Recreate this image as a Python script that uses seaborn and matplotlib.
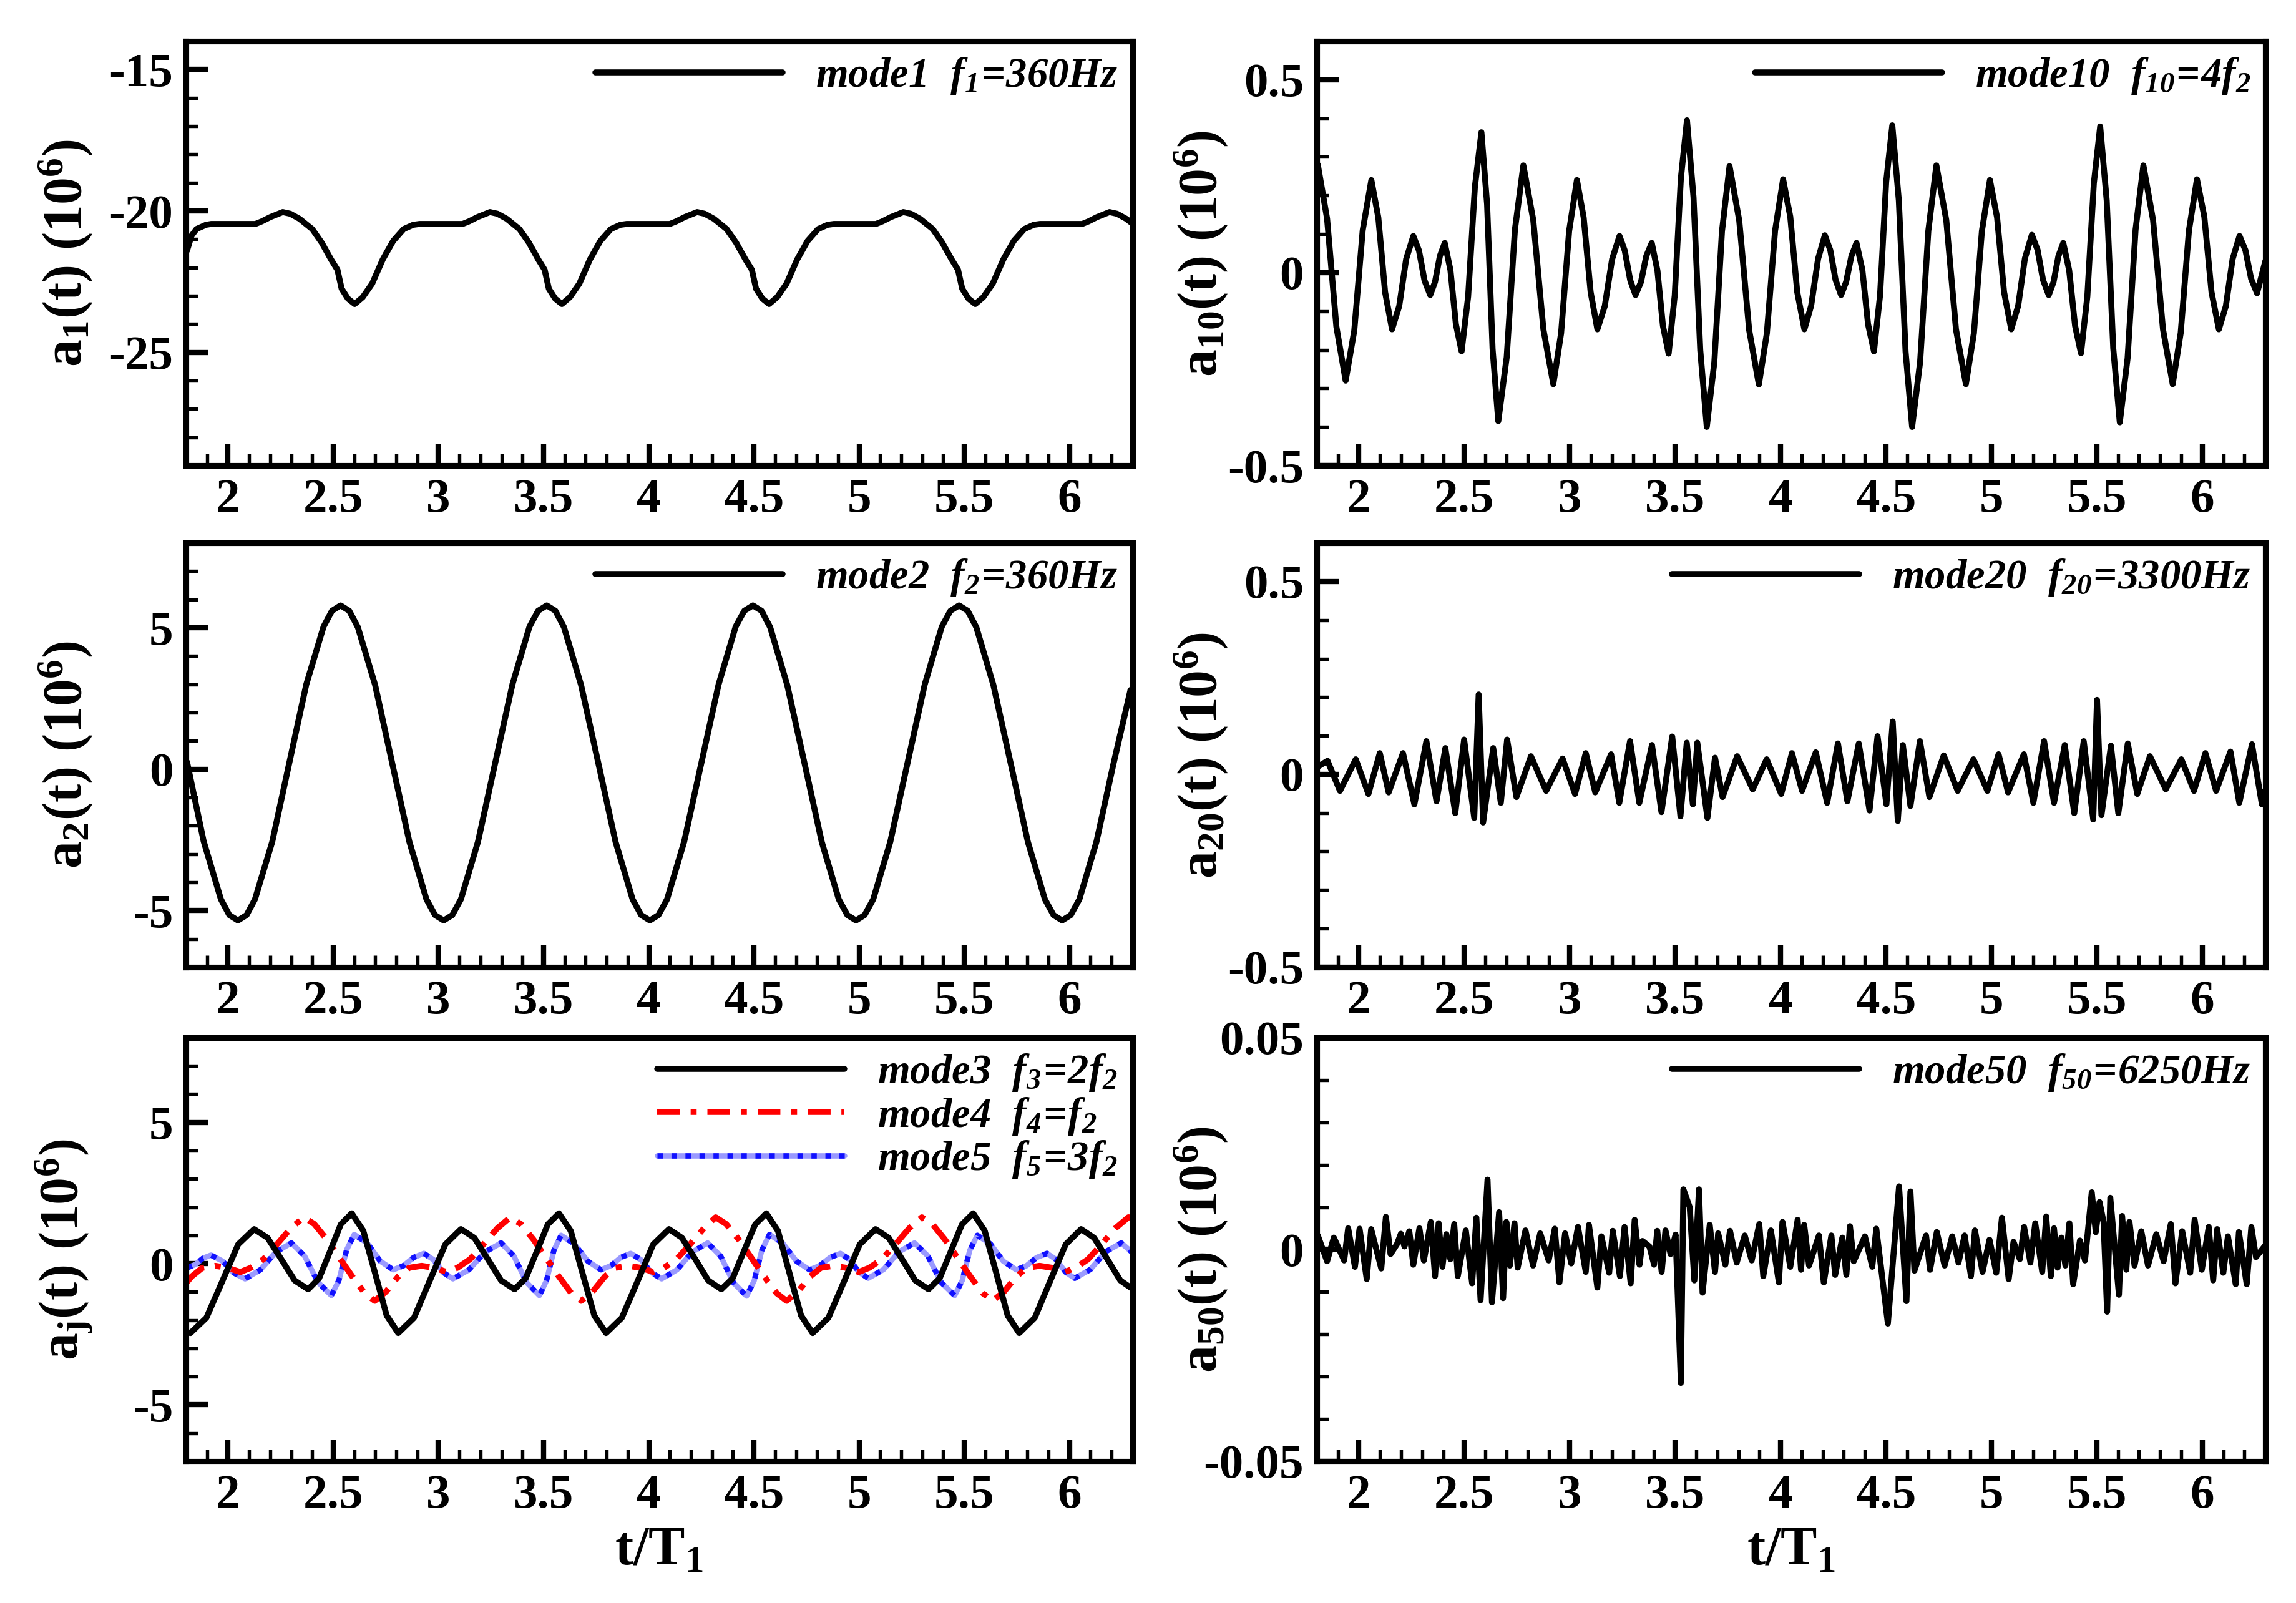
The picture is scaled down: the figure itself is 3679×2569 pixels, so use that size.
import matplotlib
matplotlib.use("Agg")
import matplotlib.pyplot as plt
import seaborn as sns
from matplotlib.ticker import MultipleLocator
from matplotlib.legend_handler import HandlerTuple

# ---------------- data ----------------
x_ticks = [2, 2.5, 3, 3.5, 4, 4.5, 5, 5.5, 6]
x_tick_labels = ["2", "2.5", "3", "3.5", "4", "4.5", "5", "5.5", "6"]

# mode 1
t_mode1 = [1.805, 1.826, 1.85, 1.895, 1.92,
           2.13, 2.16, 2.20, 2.26, 2.296, 2.34, 2.40, 2.445, 2.49, 2.52, 2.54, 2.57, 2.602, 2.64, 2.685, 2.735, 2.785, 2.835, 2.88, 2.91,
           3.115, 3.145, 3.185, 3.245, 3.281, 3.325, 3.385, 3.43, 3.475, 3.505, 3.525, 3.555, 3.587, 3.625, 3.67, 3.72, 3.77, 3.82, 3.865, 3.895,
           4.10, 4.13, 4.17, 4.23, 4.266, 4.31, 4.37, 4.415, 4.46, 4.49, 4.51, 4.54, 4.572, 4.61, 4.655, 4.705, 4.755, 4.805, 4.85, 4.88,
           5.08, 5.11, 5.15, 5.21, 5.246, 5.29, 5.35, 5.395, 5.44, 5.47, 5.49, 5.52, 5.552, 5.59, 5.635, 5.685, 5.735, 5.785, 5.83, 5.86,
           6.06, 6.09, 6.13, 6.19, 6.226, 6.27, 6.30]
a_mode1 = [-21.40, -20.88, -20.64, -20.49, -20.46,
           -20.46, -20.37, -20.22, -20.04, -20.10, -20.28, -20.64, -21.12, -21.72, -22.08, -22.75, -23.10, -23.29, -23.05, -22.57, -21.72, -21.06, -20.64, -20.49, -20.46,
           -20.46, -20.37, -20.22, -20.04, -20.10, -20.28, -20.64, -21.12, -21.72, -22.08, -22.75, -23.10, -23.29, -23.05, -22.57, -21.72, -21.06, -20.64, -20.49, -20.46,
           -20.46, -20.37, -20.22, -20.04, -20.10, -20.28, -20.64, -21.12, -21.72, -22.08, -22.75, -23.10, -23.29, -23.05, -22.57, -21.72, -21.06, -20.64, -20.49, -20.46,
           -20.46, -20.37, -20.22, -20.04, -20.10, -20.28, -20.64, -21.12, -21.72, -22.08, -22.75, -23.10, -23.29, -23.05, -22.57, -21.72, -21.06, -20.64, -20.49, -20.46,
           -20.46, -20.37, -20.22, -20.04, -20.10, -20.28, -20.45]

# mode 2
t_mode2 = [1.805, 1.884, 1.966, 2.006, 2.047, 2.088,
           2.128, 2.210, 2.291, 2.372, 2.454, 2.494, 2.535, 2.576,
           2.617, 2.699, 2.780, 2.862, 2.943, 2.984, 3.025, 3.066,
           3.107, 3.188, 3.270, 3.352, 3.433, 3.474, 3.515, 3.556,
           3.597, 3.678, 3.760, 3.842, 3.923, 3.964, 4.005, 4.046,
           4.087, 4.168, 4.250, 4.332, 4.413, 4.454, 4.495, 4.536,
           4.577, 4.658, 4.740, 4.822, 4.903, 4.944, 4.985, 5.026,
           5.067, 5.148, 5.230, 5.312, 5.393, 5.434, 5.475, 5.516,
           5.557, 5.638, 5.720, 5.802, 5.883, 5.924, 5.965, 6.006,
           6.047, 6.128, 6.210, 6.290]
a_mode2 = [0.25, -2.55, -4.60, -5.16, -5.35, -5.16,
           -4.60, -2.57, 0.22, 3.00, 5.04, 5.60, 5.79, 5.60,
           5.02, 2.98, 0.22, -2.57, -4.60, -5.16, -5.35, -5.16,
           -4.60, -2.57, 0.22, 3.00, 5.04, 5.60, 5.79, 5.60,
           5.02, 2.98, 0.22, -2.57, -4.60, -5.16, -5.35, -5.16,
           -4.60, -2.57, 0.22, 3.00, 5.04, 5.60, 5.79, 5.60,
           5.02, 2.98, 0.22, -2.57, -4.60, -5.16, -5.35, -5.16,
           -4.60, -2.57, 0.22, 3.00, 5.04, 5.60, 5.79, 5.60,
           5.02, 2.98, 0.22, -2.57, -4.60, -5.16, -5.35, -5.16,
           -4.60, -2.57, 0.22, 2.80]

# mode 3
t_mode3 = [1.805, 1.821, 1.897, 1.973, 2.048, 2.124, 2.188, 2.253, 2.317, 2.381, 2.433, 2.485, 2.536, 2.588, 2.643, 2.699, 2.754, 2.809,
           2.884, 2.958, 3.033, 3.107, 3.171, 3.235, 3.298, 3.362, 3.415, 3.468, 3.520, 3.573, 3.629, 3.685, 3.741, 3.797,
           3.872, 3.947, 4.021, 4.096, 4.158, 4.221, 4.283, 4.345, 4.399, 4.452, 4.506, 4.559, 4.614, 4.669, 4.724, 4.779,
           4.854, 4.929, 5.003, 5.078, 5.141, 5.204, 5.267, 5.330, 5.383, 5.436, 5.489, 5.542, 5.597, 5.652, 5.706, 5.761,
           5.835, 5.908, 5.982, 6.055, 6.117, 6.180, 6.242, 6.300]
a_mode3 = [-2.42, -2.46, -1.92, -0.62, 0.68, 1.22, 0.91, 0.155, -0.60, -0.91, -0.52, 0.435, 1.39, 1.78, 1.16, -0.34, -1.84, -2.46,
           -1.92, -0.62, 0.68, 1.22, 0.91, 0.155, -0.60, -0.91, -0.52, 0.435, 1.39, 1.78, 1.16, -0.34, -1.84, -2.46,
           -1.92, -0.62, 0.68, 1.22, 0.91, 0.155, -0.60, -0.91, -0.52, 0.435, 1.39, 1.78, 1.16, -0.34, -1.84, -2.46,
           -1.92, -0.62, 0.68, 1.22, 0.91, 0.155, -0.60, -0.91, -0.52, 0.435, 1.39, 1.78, 1.16, -0.34, -1.84, -2.46,
           -1.92, -0.62, 0.68, 1.22, 0.91, 0.155, -0.60, -0.90]

# mode 4
t_mode4 = [1.805, 1.828, 1.878, 1.938, 1.998, 2.058, 2.108, 2.168, 2.238, 2.298,
           2.36, 2.41, 2.47, 2.53, 2.59, 2.65, 2.697, 2.75, 2.81, 2.86, 2.92, 2.98, 3.04, 3.09, 3.15, 3.22, 3.28,
           3.342, 3.392, 3.452, 3.512, 3.572, 3.632, 3.679, 3.732, 3.792, 3.842, 3.902, 3.962, 4.022, 4.072, 4.132, 4.202, 4.262,
           4.318, 4.368, 4.428, 4.488, 4.548, 4.608, 4.655, 4.708, 4.768, 4.818, 4.878, 4.938, 4.998, 5.048, 5.108, 5.178, 5.238,
           5.298, 5.348, 5.408, 5.468, 5.528, 5.588, 5.635, 5.688, 5.748, 5.798, 5.858, 5.918, 5.978, 6.028, 6.088, 6.158, 6.218,
           6.28, 6.30]
a_mode4 = [-0.65, -0.45, -0.15, -0.08, -0.15, -0.30, -0.15, 0.15, 0.73, 1.25,
           1.64, 1.40, 0.85, 0.20, -0.45, -1.05, -1.32, -1.00, -0.45, -0.15, -0.08, -0.15, -0.30, -0.15, 0.15, 0.73, 1.25,
           1.64, 1.40, 0.85, 0.20, -0.45, -1.05, -1.32, -1.00, -0.45, -0.15, -0.08, -0.15, -0.30, -0.15, 0.15, 0.73, 1.25,
           1.64, 1.40, 0.85, 0.20, -0.45, -1.05, -1.32, -1.00, -0.45, -0.15, -0.08, -0.15, -0.30, -0.15, 0.15, 0.73, 1.25,
           1.64, 1.40, 0.85, 0.20, -0.45, -1.05, -1.32, -1.00, -0.45, -0.15, -0.08, -0.15, -0.30, -0.15, 0.15, 0.73, 1.25,
           1.64, 1.62]

# mode 5
t_mode5 = [1.805, 1.843, 1.881, 1.919, 1.973, 2.027, 2.081, 2.154, 2.228, 2.301, 2.364, 2.428, 2.491, 2.527, 2.564, 2.600,
           2.662, 2.723, 2.785, 2.834, 2.882, 2.931, 2.977, 3.023, 3.069, 3.145, 3.222, 3.298, 3.359, 3.419, 3.480, 3.514,
           3.549, 3.583, 3.646, 3.710, 3.773, 3.820, 3.867, 3.914, 3.963, 4.012, 4.061, 4.134, 4.207, 4.280, 4.342, 4.403,
           4.465, 4.501, 4.538, 4.574, 4.637, 4.701, 4.764, 4.813, 4.862, 4.911, 4.955, 4.999, 5.043, 5.116, 5.190, 5.263,
           5.327, 5.390, 5.454, 5.490, 5.526, 5.562, 5.624, 5.685, 5.747, 5.796, 5.844, 5.893, 5.937, 5.981, 6.025, 6.099,
           6.172, 6.246, 6.300]
a_mode5 = [-0.15, -0.04, 0.19, 0.30, 0.09, -0.33, -0.54, -0.22, 0.41, 0.73, 0.265, -0.665, -1.13, -0.59, 0.49, 1.03,
           0.72, 0.09, -0.22, -0.075, 0.215, 0.36, 0.135, -0.315, -0.54, -0.22, 0.41, 0.73, 0.265, -0.665, -1.13, -0.60,
           0.47, 1.00, 0.695, 0.085, -0.22, -0.075, 0.215, 0.36, 0.135, -0.315, -0.54, -0.22, 0.41, 0.73, 0.26, -0.68,
           -1.15, -0.605, 0.485, 1.03, 0.72, 0.09, -0.22, -0.075, 0.215, 0.36, 0.14, -0.30, -0.52, -0.21, 0.42, 0.73,
           0.265, -0.665, -1.13, -0.60, 0.47, 1.00, 0.695, 0.085, -0.22, -0.075, 0.215, 0.36, 0.14, -0.30, -0.52, -0.21,
           0.42, 0.73, 0.38]

# mode 10
t_mode10 = [1.805, 1.849, 1.893, 1.937, 1.978, 2.018, 2.059, 2.092, 2.124, 2.157, 2.191, 2.224,
            2.258, 2.285, 2.311, 2.338, 2.361, 2.384, 2.407, 2.434, 2.460, 2.487, 2.518, 2.550,
            2.581, 2.608, 2.634, 2.661, 2.701, 2.740, 2.780, 2.827, 2.875, 2.922, 2.959, 2.997,
            3.034, 3.066, 3.099, 3.131, 3.166, 3.201, 3.236, 3.261, 3.287, 3.312, 3.338, 3.363,
            3.389, 3.416, 3.442, 3.469, 3.498, 3.527, 3.556, 3.587, 3.619, 3.650, 3.686, 3.722,
            3.758, 3.804, 3.851, 3.897, 3.935, 3.974, 4.012, 4.046, 4.079, 4.113, 4.145, 4.178,
            4.210, 4.236, 4.261, 4.287, 4.311, 4.336, 4.360, 4.388, 4.415, 4.443, 4.472, 4.501,
            4.530, 4.561, 4.593, 4.624, 4.662, 4.701, 4.739, 4.786, 4.832, 4.879, 4.917, 4.955,
            4.993, 5.027, 5.060, 5.094, 5.127, 5.159, 5.192, 5.219, 5.245, 5.272, 5.295, 5.318,
            5.341, 5.369, 5.397, 5.425, 5.455, 5.486, 5.516, 5.547, 5.578, 5.609, 5.646, 5.684,
            5.721, 5.767, 5.814, 5.860, 5.898, 5.937, 5.975, 6.010, 6.044, 6.079, 6.112, 6.144,
            6.177, 6.205, 6.232, 6.260, 6.300]
a_mode10 = [0.280, 0.140, -0.140, -0.280, -0.150, 0.110, 0.240, 0.143, -0.050, -0.147, -0.087, 0.035,
            0.095, 0.057, -0.020, -0.058, -0.024, 0.043, 0.077, 0.007, -0.134, -0.204, -0.062, 0.222,
            0.364, 0.177, -0.198, -0.385, -0.219, 0.112, 0.278, 0.136, -0.147, -0.289, -0.157, 0.108,
            0.240, 0.143, -0.050, -0.147, -0.087, 0.035, 0.095, 0.057, -0.020, -0.058, -0.024, 0.043,
            0.077, 0.005, -0.138, -0.210, -0.059, 0.244, 0.395, 0.196, -0.201, -0.400, -0.231, 0.107,
            0.276, 0.135, -0.149, -0.290, -0.157, 0.109, 0.242, 0.145, -0.050, -0.147, -0.086, 0.036,
            0.097, 0.058, -0.019, -0.058, -0.024, 0.043, 0.077, 0.007, -0.134, -0.204, -0.058, 0.236,
            0.382, 0.187, -0.205, -0.400, -0.231, 0.109, 0.278, 0.136, -0.147, -0.289, -0.157, 0.108,
            0.240, 0.143, -0.050, -0.147, -0.086, 0.037, 0.098, 0.059, -0.019, -0.058, -0.024, 0.043,
            0.077, 0.006, -0.138, -0.209, -0.062, 0.232, 0.379, 0.187, -0.196, -0.388, -0.222, 0.112,
            0.278, 0.136, -0.147, -0.289, -0.156, 0.109, 0.242, 0.145, -0.050, -0.147, -0.087, 0.035,
            0.095, 0.058, -0.016, -0.053, 0.031]

# mode 20
t_mode20 = [1.806, 1.851, 1.910, 1.985, 2.045, 2.099, 2.141, 2.209, 2.263, 2.320, 2.368, 2.410, 2.457, 2.499, 2.547, 2.568,
            2.589, 2.637, 2.673, 2.703, 2.747, 2.816, 2.888, 2.966, 3.025, 3.076, 3.121, 3.196, 3.235, 3.286, 3.330, 3.390,
            3.435, 3.486, 3.525, 3.555, 3.584, 3.605, 3.653, 3.689, 3.725, 3.794, 3.868, 3.934, 4.003, 4.054, 4.102, 4.167,
            4.221, 4.272, 4.317, 4.371, 4.422, 4.460, 4.502, 4.532, 4.556, 4.580, 4.616, 4.661, 4.706, 4.774, 4.840, 4.915,
            4.981, 5.034, 5.079, 5.154, 5.199, 5.250, 5.297, 5.348, 5.393, 5.438, 5.483, 5.501, 5.522, 5.567, 5.602, 5.647,
            5.692, 5.752, 5.827, 5.901, 5.961, 6.015, 6.066, 6.134, 6.176, 6.236, 6.283, 6.300]
a_mode20 = [0.020, 0.035, -0.043, 0.039, -0.051, 0.055, -0.047, 0.055, -0.078, 0.086, -0.070, 0.068, -0.101, 0.090, -0.113, 0.207,
            -0.125, 0.068, -0.074, 0.090, -0.059, 0.047, -0.043, 0.041, -0.051, 0.055, -0.047, 0.052, -0.074, 0.086, -0.074, 0.076,
            -0.098, 0.098, -0.109, 0.082, -0.078, 0.082, -0.113, 0.043, -0.059, 0.047, -0.039, 0.039, -0.051, 0.055, -0.043, 0.057,
            -0.074, 0.080, -0.070, 0.080, -0.094, 0.099, -0.078, 0.137, -0.121, 0.076, -0.082, 0.086, -0.059, 0.049, -0.043, 0.039,
            -0.043, 0.052, -0.047, 0.052, -0.074, 0.086, -0.074, 0.076, -0.101, 0.086, -0.117, 0.193, -0.106, 0.074, -0.101, 0.080,
            -0.051, 0.047, -0.039, 0.039, -0.043, 0.055, -0.043, 0.059, -0.074, 0.078, -0.078, -0.040]

# mode 50
t_mode50 = [1.805, 1.849, 1.881, 1.930, 1.949, 1.981, 2.003, 2.037, 2.058, 2.106, 2.128, 2.150, 2.180, 2.199, 2.216, 2.239,
            2.258, 2.287, 2.308, 2.341, 2.361, 2.378, 2.396, 2.415, 2.434, 2.452, 2.469, 2.507, 2.537, 2.557, 2.577, 2.610,
            2.631, 2.665, 2.684, 2.699, 2.716, 2.738, 2.753, 2.790, 2.826, 2.860, 2.900, 2.929, 2.951, 2.978, 3.007, 3.039,
            3.076, 3.091, 3.131, 3.150, 3.187, 3.204, 3.238, 3.260, 3.289, 3.308, 3.331, 3.345, 3.378, 3.400, 3.415, 3.436,
            3.454, 3.478, 3.502, 3.527, 3.539, 3.569, 3.591, 3.613, 3.630, 3.664, 3.689, 3.704, 3.738, 3.760, 3.792, 3.830,
            3.863, 3.899, 3.918, 3.954, 3.992, 4.009, 4.046, 4.081, 4.097, 4.112, 4.135, 4.182, 4.205, 4.241, 4.259, 4.293,
            4.312, 4.329, 4.347, 4.400, 4.435, 4.454, 4.509, 4.562, 4.597, 4.616, 4.635, 4.690, 4.709, 4.741, 4.778, 4.814,
            4.844, 4.873, 4.903, 4.922, 4.958, 4.991, 5.023, 5.050, 5.082, 5.105, 5.135, 5.155, 5.185, 5.208, 5.241, 5.260,
            5.282, 5.297, 5.314, 5.332, 5.351, 5.370, 5.388, 5.420, 5.444, 5.476, 5.495, 5.513, 5.532, 5.549, 5.564, 5.605,
            5.620, 5.640, 5.655, 5.679, 5.711, 5.743, 5.782, 5.817, 5.851, 5.873, 5.905, 5.943, 5.964, 5.998, 6.031, 6.052,
            6.071, 6.100, 6.122, 6.159, 6.174, 6.211, 6.233, 6.255, 6.300]
a_mode50 = [0.0033, -0.0028, 0.0028, -0.0026, 0.0050, -0.0041, 0.0049, -0.0070, 0.0048, -0.0045, 0.0077, -0.0011, 0.0012, 0.0037, 0.0007, 0.0043,
            -0.0036, 0.0050, -0.0026, 0.0065, -0.0063, 0.0062, -0.0041, 0.0036, -0.0023, 0.0060, -0.0063, 0.0045, -0.0080, 0.0075, -0.0120, 0.0165,
            -0.0125, 0.0088, -0.0115, 0.0065, -0.0038, 0.0062, -0.0043, 0.0045, -0.0038, 0.0038, -0.0026, 0.0049, -0.0078, 0.0038, -0.0033, 0.0053,
            -0.0053, 0.0058, -0.0090, 0.0031, -0.0055, 0.0044, -0.0063, 0.0053, -0.0080, 0.0070, -0.0036, 0.0020, 0.0007, -0.0036, 0.0044, -0.0053,
            0.0045, -0.0011, 0.0035, -0.0315, 0.0142, 0.0100, -0.0073, 0.0142, -0.0102, 0.0058, -0.0053, 0.0038, -0.0036, 0.0044, -0.0031, 0.0033,
            -0.0026, 0.0060, -0.0063, 0.0045, -0.0078, 0.0065, -0.0041, 0.0070, -0.0048, 0.0058, -0.0038, 0.0033, -0.0078, 0.0033, -0.0060, 0.0028,
            -0.0060, 0.0055, -0.0028, 0.0031, -0.0041, 0.0049, -0.0175, 0.0149, -0.0122, 0.0137, -0.0050, 0.0033, -0.0048, 0.0041, -0.0038, 0.0031,
            -0.0031, 0.0033, -0.0063, 0.0045, -0.0053, 0.0023, -0.0055, 0.0075, -0.0070, 0.0018, -0.0023, 0.0053, -0.0031, 0.0062, -0.0053, 0.0078,
            -0.0063, 0.0050, -0.0043, 0.0028, -0.0038, 0.0062, -0.0082, 0.0021, -0.0026, 0.0135, 0.0041, 0.0112, 0.0065, -0.0147, 0.0122, -0.0107,
            0.0079, -0.0048, 0.0065, -0.0038, 0.0043, -0.0038, 0.0036, -0.0028, 0.0060, -0.0080, 0.0043, -0.0055, 0.0070, -0.0048, 0.0053, -0.0073,
            0.0048, -0.0055, 0.0031, -0.0082, 0.0041, -0.0082, 0.0053, -0.0018, 0.0010]

# ---------------- style ----------------
sns.set_style("white")
plt.rcParams.update({
    "font.family": ["Liberation Serif", "DejaVu Serif"],
    "font.weight": "bold",
    "mathtext.fontset": "custom",
    "mathtext.rm": "Liberation Serif:bold",
    "mathtext.it": "Liberation Serif:italic:bold",
    "mathtext.bf": "Liberation Serif:bold",
    "mathtext.sf": "Liberation Serif:italic:bold",
    "mathtext.default": "rm",
    "axes.unicode_minus": False,
    "text.color": "black",
    "axes.labelcolor": "black",
    "xtick.color": "black",
    "ytick.color": "black",
    "lines.solid_joinstyle": "round",
    "lines.solid_capstyle": "round",
})

LW = 2.3
fig = plt.figure(figsize=(3679 / 300, 2569 / 300), dpi=300)

left_x, left_w = 0.0810, 0.4123
right_x, right_w = 0.5735, 0.4132
rows = [(0.7096, 0.2647), (0.3967, 0.2646), (0.0884, 0.2643)]

axes = {}
for r, (b, h) in enumerate(rows):
    axes[(r, 0)] = fig.add_axes([left_x, b, left_w, h])
    axes[(r, 1)] = fig.add_axes([right_x, b, right_w, h])


def draw(ax, t, a, **kw):
    sns.lineplot(x=t, y=a, ax=ax, estimator=None, sort=False, legend=False, **kw)
    return ax.lines[-1]


def style(ax, ylim, yticks, ylabels, yminor, ylabel, labx):
    ax.set_xlim(1.8, 6.3)
    ax.set_ylim(*ylim)
    ax.set_xticks(x_ticks)
    ax.set_xticklabels(x_tick_labels)
    ax.xaxis.set_minor_locator(MultipleLocator(0.1))
    ax.set_yticks(yticks)
    ax.set_yticklabels(ylabels)
    ax.yaxis.set_minor_locator(MultipleLocator(yminor))
    ax.tick_params(which="major", direction="in", length=8.5, width=2.0,
                   labelsize=18.5, pad=5, top=False, right=False, bottom=True, left=True)
    ax.tick_params(which="minor", direction="in", length=4.5, width=1.3,
                   top=False, right=False, bottom=True, left=True)
    for s in ax.spines.values():
        s.set_linewidth(2.2)
        s.set_color("black")
    ax.set_xlabel("")
    ax.set_ylabel(ylabel, fontsize=21)
    ax.yaxis.set_label_coords(labx, 0.5)


def leg(ax, handles, labels):
    ax.legend(handles, labels, loc="upper right", frameon=False, fontsize=16,
              handlelength=4.5, handletextpad=0.8, borderaxespad=0.25, borderpad=0.1,
              labelspacing=0.05, handler_map={tuple: HandlerTuple(ndivide=1)})


LAB_L, LAB_R = -0.097, -0.092

# panel mode1
ax = axes[(0, 0)]
l1 = draw(ax, t_mode1, a_mode1, color="black", linewidth=LW)
style(ax, (-29, -14), [-25, -20, -15], ["-25", "-20", "-15"], 1, r"$a_{1}(t)\ (10^{6})$", LAB_L)
leg(ax, [l1], [r"$\mathsf{mode1\ \ f_{1}\!=\!360Hz}$"])

# panel mode2
ax = axes[(1, 0)]
l2 = draw(ax, t_mode2, a_mode2, color="black", linewidth=LW)
style(ax, (-7, 8), [-5, 0, 5], ["-5", "0", "5"], 1, r"$a_{2}(t)\ (10^{6})$", LAB_L)
leg(ax, [l2], [r"$\mathsf{mode2\ \ f_{2}\!=\!360Hz}$"])

# panel modes 3-5
ax = axes[(2, 0)]
l5a = draw(ax, t_mode5, a_mode5, color="#9a9aff", linewidth=LW * 0.9)
l5b = draw(ax, t_mode5, a_mode5, color="#1010ff", linewidth=LW * 0.9)
l5b.set_dashes((1.0, 1.6))
l4 = draw(ax, t_mode4, a_mode4, color="#ff0000", linewidth=LW)
l4.set_dashes((3.8, 1.8, 1.0, 1.8))
l3 = draw(ax, t_mode3, a_mode3, color="black", linewidth=LW)
style(ax, (-7, 8), [-5, 0, 5], ["-5", "0", "5"], 1, r"$a_{j}(t)\ (10^{6})$", LAB_L)
leg(ax, [l3, l4, (l5a, l5b)],
    [r"$\mathsf{mode3\ \ f_{3}\!=\!2f_{2}}$", r"$\mathsf{mode4\ \ f_{4}\!=\!f_{2}}$",
     r"$\mathsf{mode5\ \ f_{5}\!=\!3f_{2}}$"])
ax.set_xlabel(r"$t/T_{1}$", fontsize=21, labelpad=3)

# panel mode10
ax = axes[(0, 1)]
l10 = draw(ax, t_mode10, a_mode10, color="black", linewidth=LW)
style(ax, (-0.5, 0.6), [-0.5, 0, 0.5], ["-0.5", "0", "0.5"], 0.1, r"$a_{10}(t)\ (10^{6})$", LAB_R)
leg(ax, [l10], [r"$\mathsf{mode10\ \ f_{10}\!=\!4f_{2}}$"])

# panel mode20
ax = axes[(1, 1)]
l20 = draw(ax, t_mode20, a_mode20, color="black", linewidth=LW)
style(ax, (-0.5, 0.6), [-0.5, 0, 0.5], ["-0.5", "0", "0.5"], 0.1, r"$a_{20}(t)\ (10^{6})$", LAB_R)
leg(ax, [l20], [r"$\mathsf{mode20\ \ f_{20}\!=\!3300Hz}$"])

# panel mode50
ax = axes[(2, 1)]
l50 = draw(ax, t_mode50, a_mode50, color="black", linewidth=LW)
style(ax, (-0.05, 0.05), [-0.05, 0, 0.05], ["-0.05", "0", "0.05"], 0.01, r"$a_{50}(t)\ (10^{6})$", LAB_R)
leg(ax, [l50], [r"$\mathsf{mode50\ \ f_{50}\!=\!6250Hz}$"])
ax.set_xlabel(r"$t/T_{1}$", fontsize=21, labelpad=3)

fig.savefig("out.png", dpi=300, facecolor="white")
